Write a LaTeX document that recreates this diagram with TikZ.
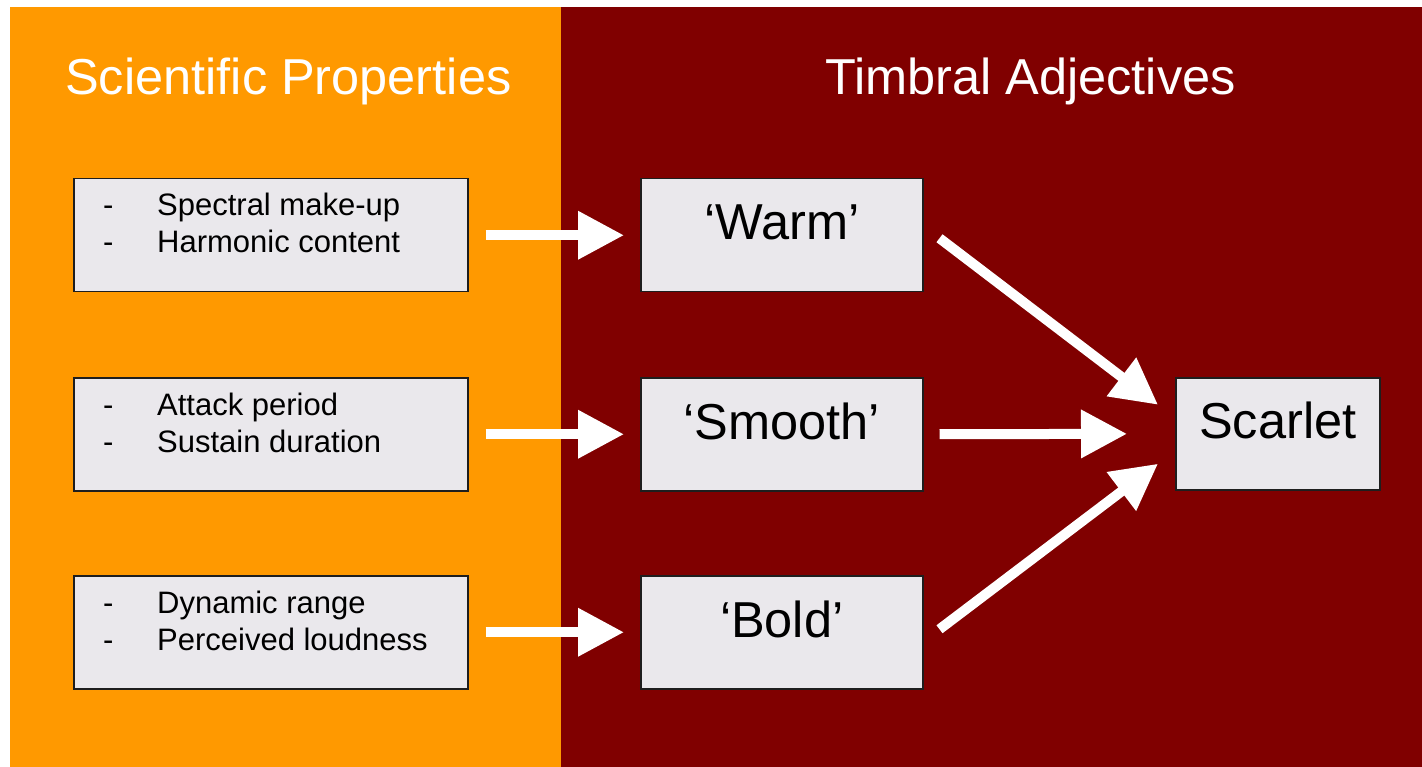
\documentclass[tikz,border=0pt]{standalone}
\usepackage{fontspec}
\setmainfont{Liberation Sans}
\usetikzlibrary{arrows.meta,calc}
\definecolor{panelorange}{RGB}{255,153,0}
\definecolor{paneldark}{RGB}{128,0,0}
\definecolor{boxfill}{RGB}{234,232,236}
\definecolor{boxline}{RGB}{30,30,30}
\begin{document}
\begin{tikzpicture}[x=1pt,y=-1pt,
  title/.style={text=white,font=\fontsize{50.5}{60}\selectfont,inner sep=0pt,anchor=base west},
  propbox/.style={draw=boxline,line width=1.5pt,fill=boxfill,minimum width=394pt,minimum height=113pt,inner sep=0pt,anchor=north west},
  adjbox/.style={draw=boxline,line width=1.5pt,fill=boxfill,minimum width=282pt,minimum height=113pt,inner sep=0pt,anchor=north west},
  resbox/.style={draw=boxline,line width=1.5pt,fill=boxfill,minimum width=204pt,minimum height=112pt,inner sep=0pt,anchor=north west},
  proptext/.style={font=\fontsize{31}{37}\selectfont,align=left,inner sep=0pt,anchor=base west},
  adjtext/.style={font=\fontsize{50.5}{60}\selectfont,inner sep=0pt,anchor=base},
  flow/.style={white,line width=10pt,-{Triangle[length=46pt,width=46pt]}}
]
% page and the two coloured panels
\useasboundingbox (0,0) rectangle (1422,767);
\fill[white] (0,0) rectangle (1422,767);
\fill[panelorange] (10,7) rectangle (561,767);
\fill[paneldark] (561,7) rectangle (1422,767);

% column headings
\node[title] (hsci) at (65,95) {Scientific Properties};
\node[title] (htim) at (825,95) {Timbral Adjectives};

% property boxes (text anchored on the baseline of its last line)
\newcommand{\dashitem}[1]{\makebox[54pt][l]{-}#1}
\node[propbox] (p1) at (73,178) {};
\node[propbox] (p2) at (73,377) {};
\node[propbox] (p3) at (73,575) {};
\node[proptext] (t1) at (103,253) {\dashitem{Spectral make-up}\\\dashitem{Harmonic content}};
\node[proptext] (t2) at (103,452) {\dashitem{Attack period}\\\dashitem{Sustain duration}};
\node[proptext] (t3) at (103,650) {\dashitem{Dynamic range}\\\dashitem{Perceived loudness}};

% adjective boxes
\node[adjbox] (a1) at (640,178) {};
\node[adjbox] (a2) at (640,377) {};
\node[adjbox] (a3) at (640,575) {};
\node[adjtext] (w) at ($(a1.north)+(0,62)$) {‘Warm’};
\node[adjtext] (sm) at ($(a2.north)+(0,62)$) {‘Smooth’};
\node[adjtext] (bo) at ($(a3.north)+(0,62)$) {‘Bold’};

% result box
\node[resbox] (r) at (1175,377) {};
\node[adjtext] (sc) at ($(r.north)+(0,61)$) {Scarlet};

% arrows from properties to adjectives
\draw[flow,shorten <=17pt,shorten >=16pt] (p1.east) -- (a1.west);
\draw[flow,shorten <=17pt,shorten >=16pt] (p2.east) -- (a2.west);
\draw[flow,shorten <=17pt,shorten >=16pt] (p3.east) -- (a3.west);

% arrows from adjectives to the result
\coordinate (e1) at ($(r.west)+(-17,-29)$);
\coordinate (e3) at ($(r.west)+(-17,30)$);
\draw[flow] ($(a1.east)+(16,3)$) -- (e1);
\draw[flow,shorten <=16pt,shorten >=48pt] (a2.east) -- (r.west);
\draw[flow] ($(a3.east)+(16,-3)$) -- (e3);
\end{tikzpicture}
\end{document}
